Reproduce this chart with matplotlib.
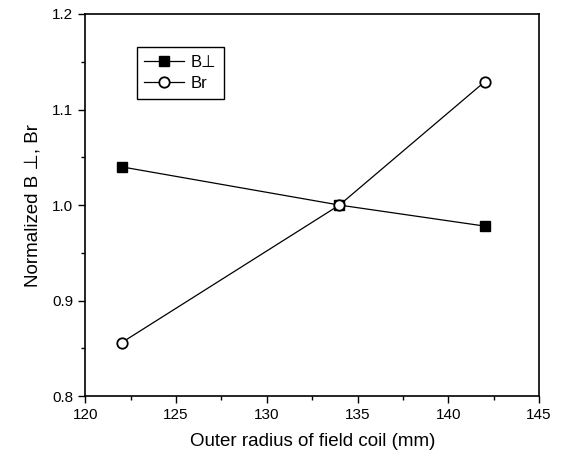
import numpy as np
import matplotlib.pyplot as plt
from matplotlib.ticker import MultipleLocator

plt.rcParams['font.family'] = ['Liberation Sans', 'DejaVu Sans']

# data
radius = [122, 134, 142]
b_perp = [1.040, 1.000, 0.978]
b_r = [0.856, 1.000, 1.129]

fig = plt.figure(figsize=(5.61, 4.65), dpi=100)
ax = fig.add_axes([0.152, 0.148, 0.809, 0.822])

ax.plot(radius, b_perp, "-", color="black", lw=0.9, marker="s",
        markersize=7.5, markerfacecolor="black", label="B\u22a5")
ax.plot(radius, b_r, "-", color="black", lw=0.9, marker="o",
        markersize=7.5, markerfacecolor="white", markeredgewidth=1.3, label="Br")

ax.set_xlim(120, 145)
ax.set_ylim(0.8, 1.2)
ax.xaxis.set_major_locator(MultipleLocator(5))
ax.xaxis.set_minor_locator(MultipleLocator(2.5))
ax.yaxis.set_major_locator(MultipleLocator(0.1))
ax.yaxis.set_minor_locator(MultipleLocator(0.05))
ax.yaxis.set_major_formatter(plt.FormatStrFormatter("%.1f"))
ax.tick_params(which="both", direction="out", labelsize=11, width=1)
ax.tick_params(which="major", length=5)
ax.tick_params(which="minor", length=3)
for s in ax.spines.values():
    s.set_linewidth(1.2)

ax.set_xlabel("Outer radius of field coil (mm)", fontsize=13.5, labelpad=8)
ax.set_ylabel("Normalized B \u22a5, Br", fontsize=13.5, labelpad=8)

leg = ax.legend(loc="upper left", bbox_to_anchor=(0.095, 0.935), fontsize=12,
                handlelength=2.4, fancybox=False, framealpha=1,
                borderpad=0.45, labelspacing=0.4, handletextpad=0.4)
leg.get_frame().set_edgecolor("black")
leg.get_frame().set_linewidth(1.0)

fig.savefig("out.png", dpi=100)
